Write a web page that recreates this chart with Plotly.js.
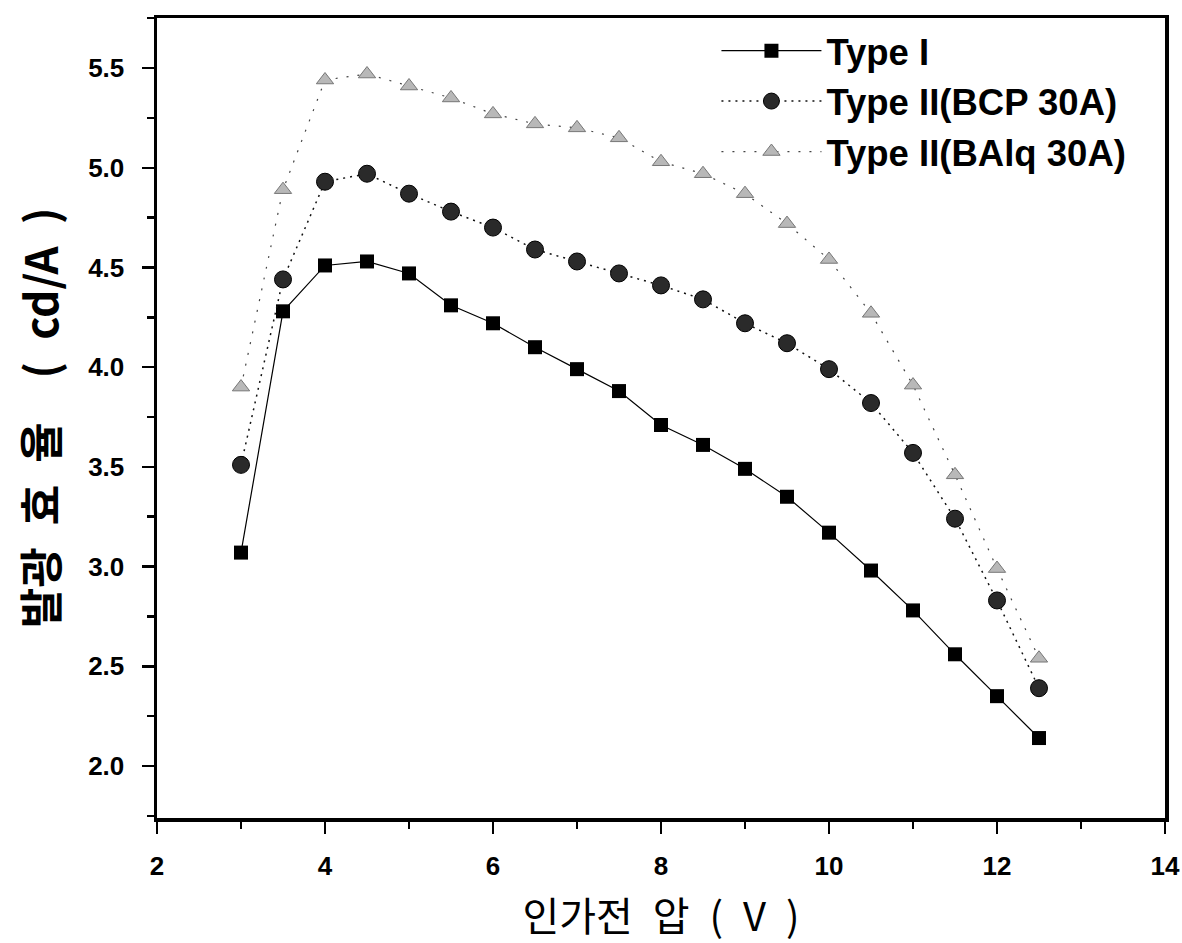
<!DOCTYPE html>
<html>
<head>
<meta charset="utf-8">
<script src="https://cdn.plot.ly/plotly-3.0.1.min.js"></script>
<style>
html,body{margin:0;padding:0;background:#fff;}
#chart{width:1182px;height:943px;}
</style>
</head>
<body>
<div id="chart"></div>
<script>
// Applied voltage (V)
const voltage = [3, 3.5, 4, 4.5, 5, 5.5, 6, 6.5, 7, 7.5, 8, 8.5, 9, 9.5, 10, 10.5, 11, 11.5, 12, 12.5];
// Luminous efficiency (cd/A)
const typeI      = [3.07, 4.28, 4.51, 4.53, 4.47, 4.31, 4.22, 4.10, 3.99, 3.88, 3.71, 3.61, 3.49, 3.35, 3.17, 2.98, 2.78, 2.56, 2.35, 2.14];
const typeII_BCP = [3.51, 4.44, 4.93, 4.97, 4.87, 4.78, 4.70, 4.59, 4.53, 4.47, 4.41, 4.34, 4.22, 4.12, 3.99, 3.82, 3.57, 3.24, 2.83, 2.39];
const typeII_BAlq= [3.90, 4.89, 5.44, 5.47, 5.41, 5.35, 5.27, 5.22, 5.20, 5.15, 5.03, 4.97, 4.87, 4.72, 4.54, 4.27, 3.91, 3.46, 2.99, 2.54];
const seriesNames = ["Type I", "Type II(BCP 30A)", "Type II(BAlq 30A)"];
const xTicks = [2, 4, 6, 8, 10, 12, 14];
const yTicks = [2.0, 2.5, 3.0, 3.5, 4.0, 4.5, 5.0, 5.5];
const yTickText = ["2.0", "2.5", "3.0", "3.5", "4.0", "4.5", "5.0", "5.5"];
const xTitle = "인가전\u2002압\u2002(\u2002V\u2002)";
const yTitle = "발광\u2002효\u2002율\u2003(\u2002cd/A\u2002)\u2003\u2002";

const traces = [
  {
    x: voltage, y: typeI, name: seriesNames[0], type: "scatter", mode: "lines+markers",
    line: {color: "#000", width: 1.2},
    marker: {symbol: "square", size: 14, color: "#000"}
  },
  {
    x: voltage, y: typeII_BCP, name: seriesNames[1], type: "scatter", mode: "lines+markers",
    line: {color: "#111", width: 1.5, dash: "2px,5px"},
    marker: {symbol: "circle", size: 17, color: "#2a2a2a", line: {color: "#000", width: 1}}
  },
  {
    x: voltage, y: typeII_BAlq, name: seriesNames[2], type: "scatter", mode: "lines+markers",
    line: {color: "#444", width: 1.2, dash: "2px,9px"},
    marker: {symbol: "triangle-up", size: 15, color: "#b8b8b8", line: {color: "#777", width: 1}}
  }
];

const tickFont = {family: "Liberation Sans, Arial, sans-serif", size: 26, color: "#000", weight: "bold"};

const layout = {
  width: 1182, height: 943,
  margin: {l: 157, r: 17, t: 18, b: 125},
  paper_bgcolor: "#fff", plot_bgcolor: "#fff",
  showlegend: true,
  legend: {
    x: 0.555, y: 0.997, xanchor: "left", yanchor: "top",
    bgcolor: "rgba(0,0,0,0)", borderwidth: 0,
    font: {family: "Liberation Sans, Arial, sans-serif", size: 36.5, color: "#000", weight: "bold"},
    itemwidth: 100, tracegroupgap: 0
  },
  xaxis: {
    range: [2, 14], tickvals: xTicks, ticktext: xTicks.map(String),
    showgrid: false, zeroline: false,
    showline: true, linecolor: "#000", linewidth: 3.5, mirror: true,
    ticks: "outside", ticklen: 12, tickwidth: 2.5, tickcolor: "#000",
    minor: {dtick: 1, tick0: 2, ticks: "outside", ticklen: 7, tickwidth: 2.5, tickcolor: "#000", showgrid: false},
    tickfont: tickFont, ticklabelstandoff: 10,
    title: {text: xTitle, standoff: 34,
      font: {family: "Noto Sans CJK KR, sans-serif", size: 40, color: "#000"}}
  },
  yaxis: {
    range: [1.739, 5.751], tickvals: yTicks, ticktext: yTickText,
    showgrid: false, zeroline: false,
    showline: true, linecolor: "#000", linewidth: 3.5, mirror: true,
    ticks: "outside", ticklen: 12, tickwidth: 2.5, tickcolor: "#000",
    minor: {dtick: 0.25, tick0: 2, ticks: "outside", ticklen: 7, tickwidth: 2.5, tickcolor: "#000", showgrid: false},
    tickfont: tickFont, ticklabelstandoff: 12,
    title: {text: yTitle, standoff: 16,
      font: {family: "Noto Sans CJK KR, sans-serif", size: 44, color: "#000", weight: "bold"}}
  }
};

Plotly.newPlot("chart", traces, layout, {displayModeBar: false, staticPlot: true});
</script>
</body>
</html>
